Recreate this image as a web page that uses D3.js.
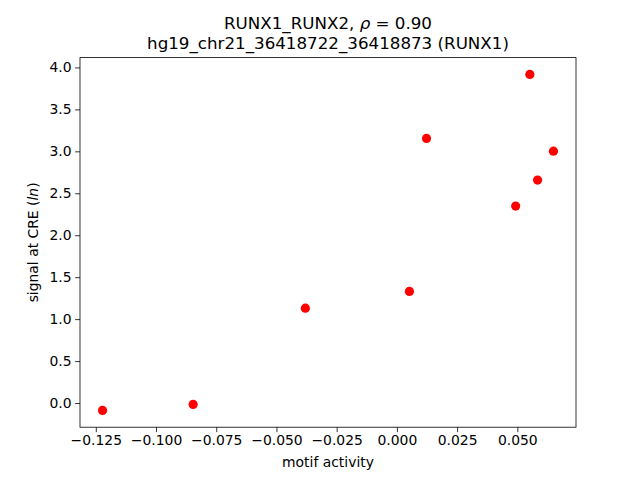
<!DOCTYPE html>
<html>
<head>
<meta charset="utf-8">
<script src="https://cdn.jsdelivr.net/npm/d3@7"></script>
<style>
  body { margin: 0; background: #fff; }
  text { font-family: "DejaVu Sans", sans-serif; fill: #000; }
</style>
</head>
<body>
<svg id="chart"></svg>
<script>
const width = 640;
const height = 480;

// motif activity vs signal at CRE
const motifActivity = [-0.1222, -0.0846, -0.0380, 0.0052, 0.0123, 0.0493, 0.0552, 0.0584, 0.0650];
const creSignal = [-0.088, -0.017, 1.130, 1.330, 3.154, 2.347, 3.917, 2.657, 3.002];
const xTicks = [-0.125, -0.100, -0.075, -0.050, -0.025, 0.000, 0.025, 0.050];
const yTicks = [0.0, 0.5, 1.0, 1.5, 2.0, 2.5, 3.0, 3.5, 4.0];

const margin = { top: 57.6, right: 64, bottom: 52.8, left: 80 };

const svg = d3.select("#chart")
    .attr("width", width)
    .attr("height", height);

// matplotlib style 5% padding around the data
const pad = (ext) => {
    const r = ext[1] - ext[0];
    return [ext[0] - 0.05 * r, ext[1] + 0.05 * r];
};

const x = d3.scaleLinear()
    .domain(pad(d3.extent(motifActivity)))
    .range([margin.left, width - margin.right]);

const y = d3.scaleLinear()
    .domain(pad(d3.extent(creSignal)))
    .range([height - margin.bottom, margin.top]);

const xAxis = svg.append("g")
    .attr("transform", `translate(0, ${height - margin.bottom})`)
    .call(d3.axisBottom(x).tickValues(xTicks).tickFormat(d3.format(".3f")).tickSize(4.9).tickPadding(3.5));

const yAxis = svg.append("g")
    .attr("transform", `translate(${margin.left}, 0)`)
    .call(d3.axisLeft(y).tickValues(yTicks).tickFormat(d3.format(".1f")).tickSize(4.9).tickPadding(3.5));

[xAxis, yAxis].forEach(g => {
    g.select(".domain").remove();
    g.selectAll("line").attr("stroke", "#000").attr("stroke-width", 0.8);
    g.selectAll("text")
        .style("font-family", "DejaVu Sans, sans-serif")
        .style("font-size", "13.9px")
        .text(function () { return d3.select(this).text().replace("-", "\u2212"); });
});

// frame
svg.append("rect")
    .attr("x", margin.left)
    .attr("y", margin.top)
    .attr("width", width - margin.left - margin.right)
    .attr("height", height - margin.top - margin.bottom)
    .attr("fill", "none")
    .attr("stroke", "#000")
    .attr("stroke-width", 0.8);

// points
svg.append("g")
    .selectAll("circle")
    .data(motifActivity.map((d, i) => [d, creSignal[i]]))
    .enter()
    .append("circle")
    .attr("cx", d => x(d[0]))
    .attr("cy", d => y(d[1]))
    .attr("r", 4.6)
    .attr("fill", "#ff0000");

// title
const title = svg.append("text")
    .attr("x", (margin.left + width - margin.right) / 2)
    .attr("y", 29)
    .attr("text-anchor", "middle")
    .style("font-size", "16.7px");
title.append("tspan").text("RUNX1_RUNX2, ");
title.append("tspan").style("font-style", "italic").text("\u03C1");
title.append("tspan").text(" = 0.90");

svg.append("text")
    .attr("x", (margin.left + width - margin.right) / 2)
    .attr("y", 49)
    .attr("text-anchor", "middle")
    .style("font-size", "16.7px")
    .text("hg19_chr21_36418722_36418873 (RUNX1)");

// axis labels
svg.append("text")
    .attr("x", (margin.left + width - margin.right) / 2)
    .attr("y", 467)
    .attr("text-anchor", "middle")
    .style("font-size", "13.9px")
    .text("motif activity");

const yLabel = svg.append("text")
    .attr("transform", `translate(38, ${(margin.top + height - margin.bottom) / 2}) rotate(-90)`)
    .attr("text-anchor", "middle")
    .style("font-size", "13.9px");
yLabel.append("tspan").text("signal at CRE (");
yLabel.append("tspan").style("font-style", "italic").text("ln");
yLabel.append("tspan").text(")");
</script>
</body>
</html>
